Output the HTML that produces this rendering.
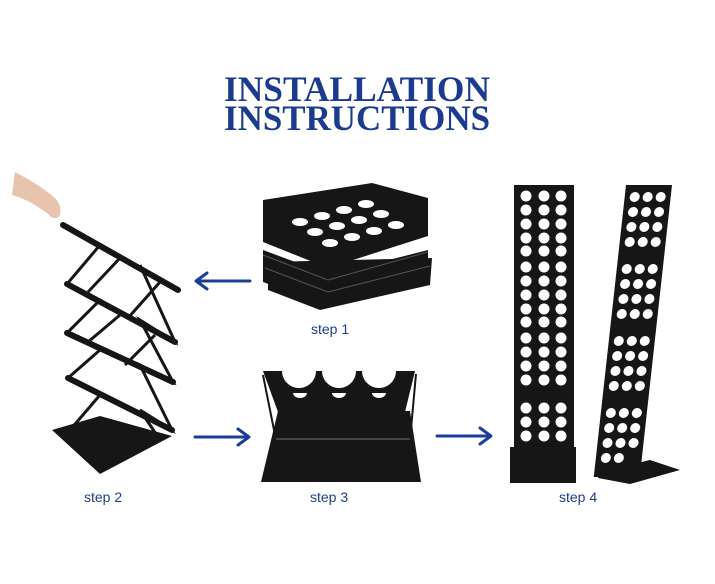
<!DOCTYPE html>
<html><head><meta charset="utf-8"><style>
html,body{margin:0;padding:0;background:#fff;}
svg{display:block;}
</style></head><body>
<svg width="715" height="584" viewBox="0 0 715 584" xmlns="http://www.w3.org/2000/svg">
<rect width="715" height="584" fill="#fff"/>
<g font-family="Liberation Serif, serif" font-weight="bold" fill="#1b3c8e" font-size="36">
<text x="224" y="101" textLength="266" lengthAdjust="spacingAndGlyphs">INSTALLATION</text>
<text x="224" y="130" textLength="266" lengthAdjust="spacingAndGlyphs">INSTRUCTIONS</text>
</g>
<g font-family="Liberation Sans, sans-serif" fill="#1e3f86" font-size="14">
<text x="311" y="334">step 1</text>
<text x="84" y="502">step 2</text>
<text x="310" y="502">step 3</text>
<text x="559" y="502">step 4</text>
</g>
<g stroke="#1a3d9a" stroke-width="3" fill="none" stroke-linecap="round" stroke-linejoin="round">
<path d="M250 281 H197 M207 273 L196 281 L207 289"/>
<path d="M195 437 H248 M238 429 L249 437 L238 445"/>
<path d="M437 436 H490 M480 428 L491 436 L480 444"/>
</g>
<!-- step1 stack -->
<g fill="#161616">
<polygon points="268,262 268,290 320,310 430,285 432,258"/>
<polygon points="263,250 263,282 325,305 428,280 428,250 330,275"/>
<polygon points="263,200 372,183 428,198 428,236 328,268 263,242"/>
</g>
<g fill="#fff">
<ellipse cx="300" cy="222" rx="8" ry="4"/><ellipse cx="322" cy="216" rx="8" ry="4"/><ellipse cx="344" cy="210" rx="8" ry="4"/><ellipse cx="366" cy="204" rx="8" ry="4"/>
<ellipse cx="315" cy="232" rx="8" ry="4"/><ellipse cx="337" cy="226" rx="8" ry="4"/><ellipse cx="359" cy="220" rx="8" ry="4"/><ellipse cx="381" cy="214" rx="8" ry="4"/>
<ellipse cx="330" cy="243" rx="8" ry="4"/><ellipse cx="352" cy="237" rx="8" ry="4"/><ellipse cx="374" cy="231" rx="8" ry="4"/><ellipse cx="396" cy="225" rx="8" ry="4"/>
</g>
<g stroke="#555" stroke-width="1"><line x1="263" y1="255" x2="328" y2="280"/><line x1="328" y1="280" x2="428" y2="252"/><line x1="265" y1="268" x2="328" y2="292"/><line x1="328" y1="292" x2="430" y2="266"/></g>
<!-- step2 hand -->
<path d="M15 172 Q40 185 55 198 Q62 205 60 215 Q55 222 48 214 Q30 200 12 195 Z" fill="#e8c3ae"/>
<polygon points="52,430 100,416 172,436 100,474" fill="#161616"/>
<g stroke="#161616" stroke-width="6" stroke-linecap="round">
<line x1="63" y1="225" x2="178" y2="290"/>
<line x1="67" y1="284" x2="175" y2="342"/>
<line x1="67" y1="333" x2="173" y2="382"/>
<line x1="68" y1="378" x2="172" y2="430"/>
</g>
<g stroke="#161616" stroke-width="3" fill="none">
<polyline points="100,245 67,284 100,300 67,333 100,350 68,378 100,395 70,430"/>
<polyline points="140,265 175,342 140,320 173,382 140,365 172,430 140,410 160,440"/>
<polyline points="120,258 88,292"/><polyline points="160,282 128,318"/><polyline points="120,315 88,342"/><polyline points="155,335 125,365"/>
</g>
<!-- step3 -->
<path d="M263 371 H282 A17 17 0 0 0 316 371 H322 A17 17 0 0 0 356 371 H362 A17 17 0 0 0 396 371 H415 L405 412 H278 Z" fill="#161616"/>
<g fill="#fff"><path d="M293 393 h14 a7 5 0 0 1 -14 0z"/><path d="M332 393 h14 a7 5 0 0 1 -14 0z"/><path d="M372 393 h14 a7 5 0 0 1 -14 0z"/></g>
<polygon points="278,411 410,411 421,482 261,482" fill="#161616"/>
<g stroke="#161616" stroke-width="2"><line x1="263" y1="375" x2="276" y2="440"/><line x1="416" y1="374" x2="410" y2="440"/></g>
<line x1="276" y1="439" x2="410" y2="439" stroke="#555" stroke-width="1.5"/>
<!-- step4 left tower -->
<rect x="514" y="185" width="60" height="265" fill="#161616"/>
<rect x="510" y="447" width="66" height="36" fill="#161616"/>
<g fill="#fff">
<circle cx="526" cy="196" r="5.5"/><circle cx="544" cy="196" r="5.5"/><circle cx="561" cy="196" r="5.5"/>
<circle cx="526" cy="210" r="5.5"/><circle cx="544" cy="210" r="5.5"/><circle cx="561" cy="210" r="5.5"/>
<circle cx="526" cy="224" r="5.5"/><circle cx="544" cy="224" r="5.5"/><circle cx="561" cy="224" r="5.5"/>
<circle cx="526" cy="238" r="5.5"/><circle cx="544" cy="238" r="5.5"/><circle cx="561" cy="238" r="5.5"/>
<circle cx="526" cy="251" r="5.5"/><circle cx="544" cy="251" r="5.5"/><circle cx="561" cy="251" r="5.5"/>
<circle cx="526" cy="267" r="5.5"/><circle cx="544" cy="267" r="5.5"/><circle cx="561" cy="267" r="5.5"/>
<circle cx="526" cy="281" r="5.5"/><circle cx="544" cy="281" r="5.5"/><circle cx="561" cy="281" r="5.5"/>
<circle cx="526" cy="295" r="5.5"/><circle cx="544" cy="295" r="5.5"/><circle cx="561" cy="295" r="5.5"/>
<circle cx="526" cy="309" r="5.5"/><circle cx="544" cy="309" r="5.5"/><circle cx="561" cy="309" r="5.5"/>
<circle cx="526" cy="322" r="5.5"/><circle cx="544" cy="322" r="5.5"/><circle cx="561" cy="322" r="5.5"/>
<circle cx="526" cy="338" r="5.5"/><circle cx="544" cy="338" r="5.5"/><circle cx="561" cy="338" r="5.5"/>
<circle cx="526" cy="352" r="5.5"/><circle cx="544" cy="352" r="5.5"/><circle cx="561" cy="352" r="5.5"/>
<circle cx="526" cy="366" r="5.5"/><circle cx="544" cy="366" r="5.5"/><circle cx="561" cy="366" r="5.5"/>
<circle cx="526" cy="380" r="5.5"/><circle cx="544" cy="380" r="5.5"/><circle cx="561" cy="380" r="5.5"/>
<circle cx="526" cy="408" r="5.5"/><circle cx="544" cy="408" r="5.5"/><circle cx="561" cy="408" r="5.5"/>
<circle cx="526" cy="422" r="5.5"/><circle cx="544" cy="422" r="5.5"/><circle cx="561" cy="422" r="5.5"/>
<circle cx="526" cy="436" r="5.5"/><circle cx="544" cy="436" r="5.5"/><circle cx="561" cy="436" r="5.5"/>
</g>
<!-- step4 right tower -->
<polygon points="600,472 650,460 680,470 630,484 598,478" fill="#161616"/>
<g transform="translate(626,185) skewX(-6.3)">
<rect x="0" y="0" width="46" height="292" fill="#161616"/>
<g fill="#fff">
<circle cx="10" cy="12" r="5"/><circle cx="23" cy="12" r="5"/><circle cx="36" cy="12" r="5"/>
<circle cx="10" cy="27" r="5"/><circle cx="23" cy="27" r="5"/><circle cx="36" cy="27" r="5"/>
<circle cx="10" cy="42" r="5"/><circle cx="23" cy="42" r="5"/><circle cx="36" cy="42" r="5"/>
<circle cx="10" cy="57" r="5"/><circle cx="23" cy="57" r="5"/><circle cx="36" cy="57" r="5"/>
<circle cx="10" cy="84" r="5"/><circle cx="23" cy="84" r="5"/><circle cx="36" cy="84" r="5"/>
<circle cx="10" cy="99" r="5"/><circle cx="23" cy="99" r="5"/><circle cx="36" cy="99" r="5"/>
<circle cx="10" cy="114" r="5"/><circle cx="23" cy="114" r="5"/><circle cx="36" cy="114" r="5"/>
<circle cx="10" cy="129" r="5"/><circle cx="23" cy="129" r="5"/><circle cx="36" cy="129" r="5"/>
<circle cx="10" cy="156" r="5"/><circle cx="23" cy="156" r="5"/><circle cx="36" cy="156" r="5"/>
<circle cx="10" cy="171" r="5"/><circle cx="23" cy="171" r="5"/><circle cx="36" cy="171" r="5"/>
<circle cx="10" cy="186" r="5"/><circle cx="23" cy="186" r="5"/><circle cx="36" cy="186" r="5"/>
<circle cx="10" cy="201" r="5"/><circle cx="23" cy="201" r="5"/><circle cx="36" cy="201" r="5"/>
<circle cx="10" cy="228" r="5"/><circle cx="23" cy="228" r="5"/><circle cx="36" cy="228" r="5"/>
<circle cx="10" cy="243" r="5"/><circle cx="23" cy="243" r="5"/><circle cx="36" cy="243" r="5"/>
<circle cx="10" cy="258" r="5"/><circle cx="23" cy="258" r="5"/><circle cx="36" cy="258" r="5"/>
<circle cx="10" cy="273" r="5"/><circle cx="23" cy="273" r="5"/>
</g>
</g>
</svg>
</body></html>
